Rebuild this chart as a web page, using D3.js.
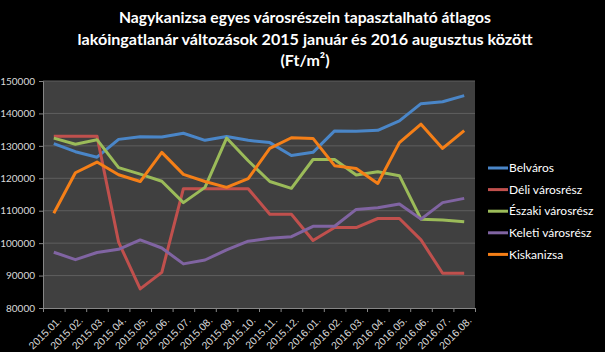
<!DOCTYPE html>
<html>
<head>
<meta charset="utf-8">
<script src="https://cdn.jsdelivr.net/npm/d3@7"></script>
<style>
  body { margin: 0; background: #000; }
  svg { display: block; font-family: Lato, "Open Sans", sans-serif; }
</style>
</head>
<body>
<div class="container"></div>
<script>
const WIDTH = 605;
const HEIGHT = 352;

var months = ["2015.01.","2015.02.","2015.03.","2015.04.","2015.05.","2015.06.","2015.07.","2015.08.","2015.09.","2015.10.",
              "2015.11.","2015.12.","2016.01.","2016.02.","2016.03.","2016.04.","2016.05.","2016.06.","2016.07.","2016.08."];

var seriesNames = ["Belváros","Déli városrész","Északi városrész","Keleti városrész","Kiskanizsa"];

var belvaros  = [130700,128200,126500,132000,132800,132700,133900,131700,132900,131700,131000,127000,128000,134600,134500,134800,137700,143000,143600,145500];
var deli      = [133000,133000,133000,100300,85900,91000,116800,116800,116800,116800,108900,108900,100800,104800,104800,107600,107600,101000,90700,90700];
var eszaki    = [132400,130500,131900,123300,121300,119100,112500,117200,132400,125400,119000,116900,125800,125800,121000,122000,120800,107400,107100,106600];
var keleti    = [97200,94900,97100,98100,101000,98500,93600,94800,97900,100600,101500,102000,105200,105200,110400,110900,112100,107400,112500,113800];
var kiskanizsa= [109200,121700,125000,121100,119000,128000,121200,119000,117200,119900,129200,132500,132300,123900,123000,118400,131000,136700,129200,134700];

var yTicks = [80000,90000,100000,110000,120000,130000,140000,150000];
var colors = ["#4A86C8","#C0504D","#9BBB59","#8064A2","#F57F17"];

var allSeries = [belvaros, deli, eszaki, keleti, kiskanizsa];

var svg = d3.select(".container")
    .append("svg")
    .attr("width", WIDTH)
    .attr("height", HEIGHT);

svg.append("rect").attr("width", WIDTH).attr("height", HEIGHT).attr("fill", "#000");

// title
var titleLines = [
    {t: "Nagykanizsa egyes városrészein tapasztalható átlagos", y: 23, w: 372},
    {t: "lakóingatlanár változások 2015 január és 2016 augusztus között", y: 45, w: 455},
    {t: "(Ft/m²)", y: 66, w: null}
];
titleLines.forEach(function(l){
    var t = svg.append("text")
        .attr("x", 305).attr("y", l.y)
        .attr("text-anchor", "middle")
        .attr("fill", "#fff")
        .attr("font-weight", "bold")
        .attr("font-size", 16)
        .text(l.t);
    if (l.w) t.attr("textLength", l.w).attr("lengthAdjust", "spacingAndGlyphs");
});

var plotLeft = 43, plotRight = 475, plotTop = 81, plotBottom = 308;

var x = d3.scaleBand().domain(months).range([plotLeft, plotRight]);
var y = d3.scaleLinear().domain([80000,150000]).range([plotBottom, plotTop]);

svg.append("rect")
    .attr("x", plotLeft).attr("y", plotTop)
    .attr("width", plotRight - plotLeft).attr("height", plotBottom - plotTop)
    .attr("fill", "#404040");

// gridlines
svg.append("g").selectAll("line")
    .data(yTicks.slice(1))
    .enter().append("line")
    .attr("x1", plotLeft).attr("x2", plotRight)
    .attr("y1", function(d){ return y(d); }).attr("y2", function(d){ return y(d); })
    .attr("stroke", "#5e5e5e").attr("stroke-width", 1);

// y axis
var yAxis = svg.append("g")
    .attr("transform", "translate(" + plotLeft + ",0)")
    .call(d3.axisLeft(y).tickValues(yTicks).tickSize(4).tickPadding(4).tickFormat(d3.format("d")));
yAxis.select(".domain").attr("stroke", "#868686");
yAxis.selectAll(".tick line").attr("stroke", "#868686");
yAxis.selectAll("text").attr("fill", "#d9d9d9").attr("font-size", 10).attr("font-family", "Lato, sans-serif");

// x axis
var xAxis = svg.append("g")
    .attr("transform", "translate(0," + plotBottom + ")")
    .call(d3.axisBottom(x).tickSize(0).tickFormat(""));
xAxis.select(".domain").attr("stroke", "#868686");
xAxis.selectAll(".tick").remove();

// tick marks at category boundaries
var bounds = months.map(function(m){ return x(m); }).concat([plotRight]);
xAxis.selectAll(".bt")
    .data(bounds)
    .enter().append("line")
    .attr("class", "bt")
    .attr("x1", function(d){ return d + 0.5; }).attr("x2", function(d){ return d + 0.5; })
    .attr("y1", 0).attr("y2", 4)
    .attr("stroke", "#868686");

xAxis.selectAll(".lbl")
    .data(months)
    .enter().append("text")
    .attr("class", "lbl")
    .attr("transform", function(d){
        return "translate(" + (x(d) + x.bandwidth()/2 + 3) + ",8) rotate(-45)";
    })
    .attr("text-anchor", "end")
    .attr("dy", "0.7em")
    .attr("fill", "#d9d9d9")
    .attr("font-size", 10.5)
    .text(function(d){ return d; });

// lines
var line = d3.line()
    .x(function(d, i){ return x(months[i]) + x.bandwidth()/2; })
    .y(function(d){ return y(d); });

svg.append("g").selectAll("path")
    .data(allSeries)
    .enter().append("path")
    .attr("d", line)
    .attr("fill", "none")
    .attr("stroke", function(d, i){ return colors[i]; })
    .attr("stroke-width", 3)
    .attr("stroke-linejoin", "round");

// legend
var legend = svg.append("g").attr("transform", "translate(488,168)");
var items = legend.selectAll("g")
    .data(seriesNames)
    .enter().append("g")
    .attr("transform", function(d, i){ return "translate(0," + (i * 21.6) + ")"; });
items.append("line")
    .attr("x1", 0).attr("x2", 20)
    .attr("stroke", function(d, i){ return colors[i]; })
    .attr("stroke-width", 3);
items.append("text")
    .attr("x", 21).attr("dy", "0.35em")
    .attr("fill", "#fff")
    .attr("font-size", 12)
    .text(function(d){ return d; });
</script>
</body>
</html>
